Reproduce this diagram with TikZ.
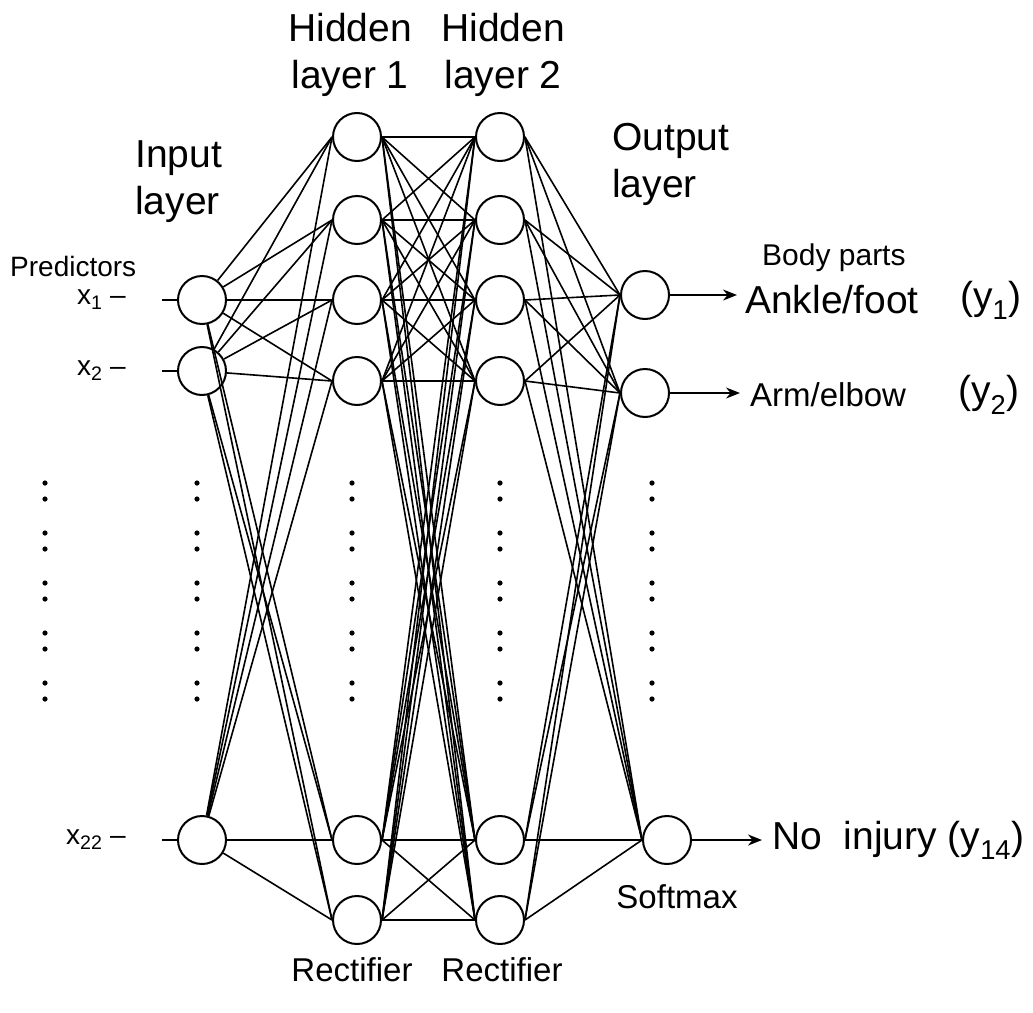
\documentclass[tikz,border=0pt]{standalone}
\usepackage{fontspec}
\setmainfont{Liberation Sans}
\usetikzlibrary{arrows.meta}
\begin{document}
\begin{tikzpicture}[x=1pt,y=-1pt,
  neuron/.style={circle,draw,line width=2pt,minimum size=48pt,inner sep=0pt},
  link/.style={line width=1.6pt},
  outarrow/.style={line width=1.6pt,-{Stealth[length=14pt,width=11pt]}},
  big/.style={font=\fontsize{39}{47}\selectfont,inner sep=0pt},
  mid/.style={font=\fontsize{33}{40}\selectfont,inner sep=0pt},
  small/.style={font=\fontsize{28}{34}\selectfont,inner sep=0pt},
  dotmark/.style={fill=black}]
\useasboundingbox (0,0) rectangle (1033,1012);

% ---- neurons ----
\node[neuron] (i1) at (202,300) {};
\node[neuron] (i2) at (202,371) {};
\node[neuron] (i3) at (202,840) {};
\foreach \n/\y in {1/137,2/220,3/300,4/381,5/840,6/920}{
  \node[neuron] (p\n) at (357,\y) {};
  \node[neuron] (q\n) at (500,\y) {};
}
\node[neuron] (o1) at (645,295) {};
\node[neuron] (o2) at (645,393) {};
\node[neuron] (o3) at (667,840) {};

% ---- connections ----
\foreach \a in {1,2,3}
  \foreach \b in {1,...,6}
    \draw[link] (i\a) -- (p\b.west);
\foreach \a in {1,...,6}
  \foreach \b in {1,...,6}
    \draw[link] (p\a.east) -- (q\b.west);
\foreach \a in {1,...,6}
  \foreach \b in {1,2,3}
    \draw[link] (q\a.east) -- (o\b.west);

% ---- predictor inputs ----
\node[small,anchor=east] (lx1) at (126,300) {x\textsubscript{1} –};
\node[small,anchor=east] (lx2) at (126,371) {x\textsubscript{2} –};
\node[small,anchor=east] (lx3) at (126,840) {x\textsubscript{22} –};
\coordinate (s1) at (162,300);
\coordinate (s2) at (162,371);
\coordinate (s3) at (162,840);
\draw[link] (s1) -- (i1.west);
\draw[link] (s2) -- (i2.west);
\draw[link] (s3) -- (i3.west);

% ---- outputs ----
\coordinate (t1) at (737,295);
\coordinate (t2) at (740,393);
\coordinate (t3) at (762,840);
\draw[outarrow] (o1.east) -- (t1);
\draw[outarrow] (o2.east) -- (t2);
\draw[outarrow] (o3.east) -- (t3);

% ---- vertical ellipses ----
\foreach \x in {45,197,352,500,652}
  \foreach \y in {483,533,583,633,683}{
    \fill[dotmark] (\x,\y) circle (2.6);
    \fill[dotmark] (\x,\y+16) circle (2.6);
  }

% ---- labels ----
\node[big,align=center] (th1) at (350,55) {Hidden\\layer 1};
\node[big,align=center] (th2) at (503,55) {Hidden\\layer 2};
\node[big,align=left,anchor=west] (tin) at (135,182) {Input\\layer};
\node[big,align=left,anchor=west] (tout) at (612,164) {Output\\layer};
\node[small,anchor=west] (tpred) at (10,266) {Predictors};
\node[small,anchor=west,font=\fontsize{30}{36}\selectfont] (tbody) at (762,258) {Body parts};
\node[big,anchor=west] (y1) at (745,300) {Ankle/foot};
\node[big,anchor=west] (y1s) at (960,300) {(y\textsubscript{1})};
\node[mid,anchor=west] (y2) at (750,395) {Arm/elbow};
\node[big,anchor=west] (y2s) at (958,395) {(y\textsubscript{2})};
\node[big,anchor=west] (y3) at (772,840) {No\ \ injury (y\textsubscript{14})};
\node[mid] (tsoft) at (677,897) {Softmax};
\node[mid] (tr1) at (352,970) {Rectifier};
\node[mid] (tr2) at (502,970) {Rectifier};
\end{tikzpicture}
\end{document}
